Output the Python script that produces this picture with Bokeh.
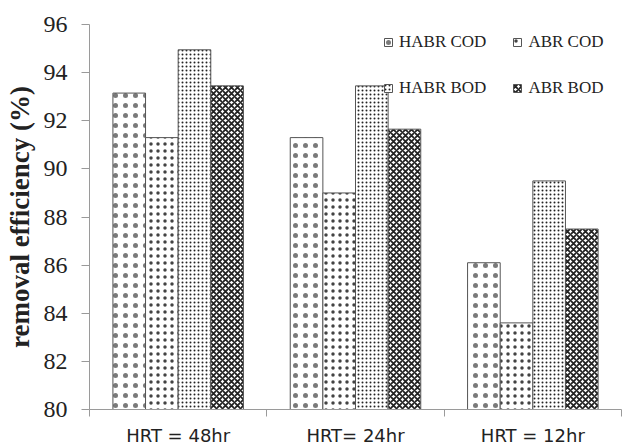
from bokeh.plotting import figure
from bokeh.models import ColumnDataSource, Range1d, FixedTicker, Legend, LegendItem
from bokeh.transform import dodge
from bokeh.embed import file_html
from bokeh.resources import INLINE

categories = ["HRT = 48hr", "HRT= 24hr", "HRT = 12hr"]
series_names = ["HABR COD", "ABR COD", "HABR BOD", "ABR BOD"]
habr_cod = [93.15, 91.3, 86.1]
abr_cod = [91.3, 89.0, 83.6]
habr_bod = [94.95, 93.45, 89.5]
abr_bod = [93.45, 91.65, 87.5]
y_ticks = [80, 82, 84, 86, 88, 90, 92, 94, 96]

centers = [i + 0.5 for i in range(len(categories))]
source = ColumnDataSource(dict(x=centers, habr_cod=habr_cod, abr_cod=abr_cod,
                               habr_bod=habr_bod, abr_bod=abr_bod))

p = figure(width=624, height=448, output_backend="svg", toolbar_location=None,
           x_range=Range1d(0, len(categories)), y_range=Range1d(80, 96),
           min_border_left=89, min_border_right=3, min_border_top=24, min_border_bottom=30)
p.outline_line_color = None
p.xgrid.visible = False
p.ygrid.visible = False
p.background_fill_color = "white"
p.border_fill_color = "white"

bw = 0.184
offsets = [-1.5 * bw, -0.5 * bw, 0.5 * bw, 1.5 * bw]
styles = [
    dict(hatch_pattern="dot", hatch_scale=10, hatch_weight=0.1, hatch_alpha=0.6),
    dict(hatch_pattern="dot", hatch_scale=7, hatch_weight=0.3, hatch_alpha=0.85),
    dict(hatch_pattern="dot", hatch_scale=4, hatch_weight=1.5),
    dict(hatch_pattern="diagonal_cross", hatch_scale=6, hatch_weight=1.8),
]
cols = ["habr_cod", "abr_cod", "habr_bod", "abr_bod"]
renderers = {}
for name, col, off, st in zip(series_names, cols, offsets, styles):
    renderers[name] = p.vbar(x=dodge("x", off), top=col, bottom=80, width=bw, source=source,
                             fill_color="white", line_color="#555555", line_width=1,
                             hatch_color="#222222", **st)

# column-major fill: column 1 = HABR COD, HABR BOD; column 2 = ABR COD, ABR BOD
legend_order = ["HABR COD", "HABR BOD", "ABR COD", "ABR BOD"]
items = [LegendItem(label=n, renderers=[renderers[n]]) for n in legend_order]

legend = Legend(items=items, ncols=2, location=(294, 311), orientation="vertical",
                label_text_font="Liberation Serif", label_text_font_size="17px",
                label_text_color="#222222", glyph_width=10, glyph_height=10,
                label_standoff=6, spacing=26, padding=0, margin=0,
                border_line_color=None, background_fill_alpha=0)
p.add_layout(legend)

yax = p.yaxis[0]
yax.ticker = FixedTicker(ticks=y_ticks)
yax.axis_line_color = "#9a9a9a"
yax.major_tick_line_color = "#9a9a9a"
yax.major_tick_out = 8
yax.major_tick_in = 0
yax.minor_tick_line_color = None
yax.major_label_text_font = "Liberation Serif"
yax.major_label_text_font_size = "24px"
yax.major_label_text_color = "#222222"
yax.major_label_standoff = 14
yax.axis_label = "removal efficiency (%)"
yax.axis_label_text_font = "Liberation Serif"
yax.axis_label_text_font_style = "bold"
yax.axis_label_text_font_size = "27px"
yax.axis_label_text_color = "#222222"
yax.axis_label_standoff = 6

xax = p.xaxis[0]
xax.ticker = FixedTicker(ticks=centers, minor_ticks=list(range(len(categories) + 1)))
xax.major_label_overrides = {c: lab for c, lab in zip(centers, categories)}
xax.axis_line_color = "#9a9a9a"
xax.major_tick_line_color = None
xax.major_tick_out = 0
xax.major_tick_in = 0
xax.minor_tick_line_color = "#9a9a9a"
xax.minor_tick_out = 7
xax.minor_tick_in = 0
xax.major_label_text_font = "DejaVu Sans"
xax.major_label_text_font_size = "18px"
xax.major_label_text_color = "#222222"
xax.major_label_standoff = 8

open("out.html", "w").write(file_html(p, INLINE))
